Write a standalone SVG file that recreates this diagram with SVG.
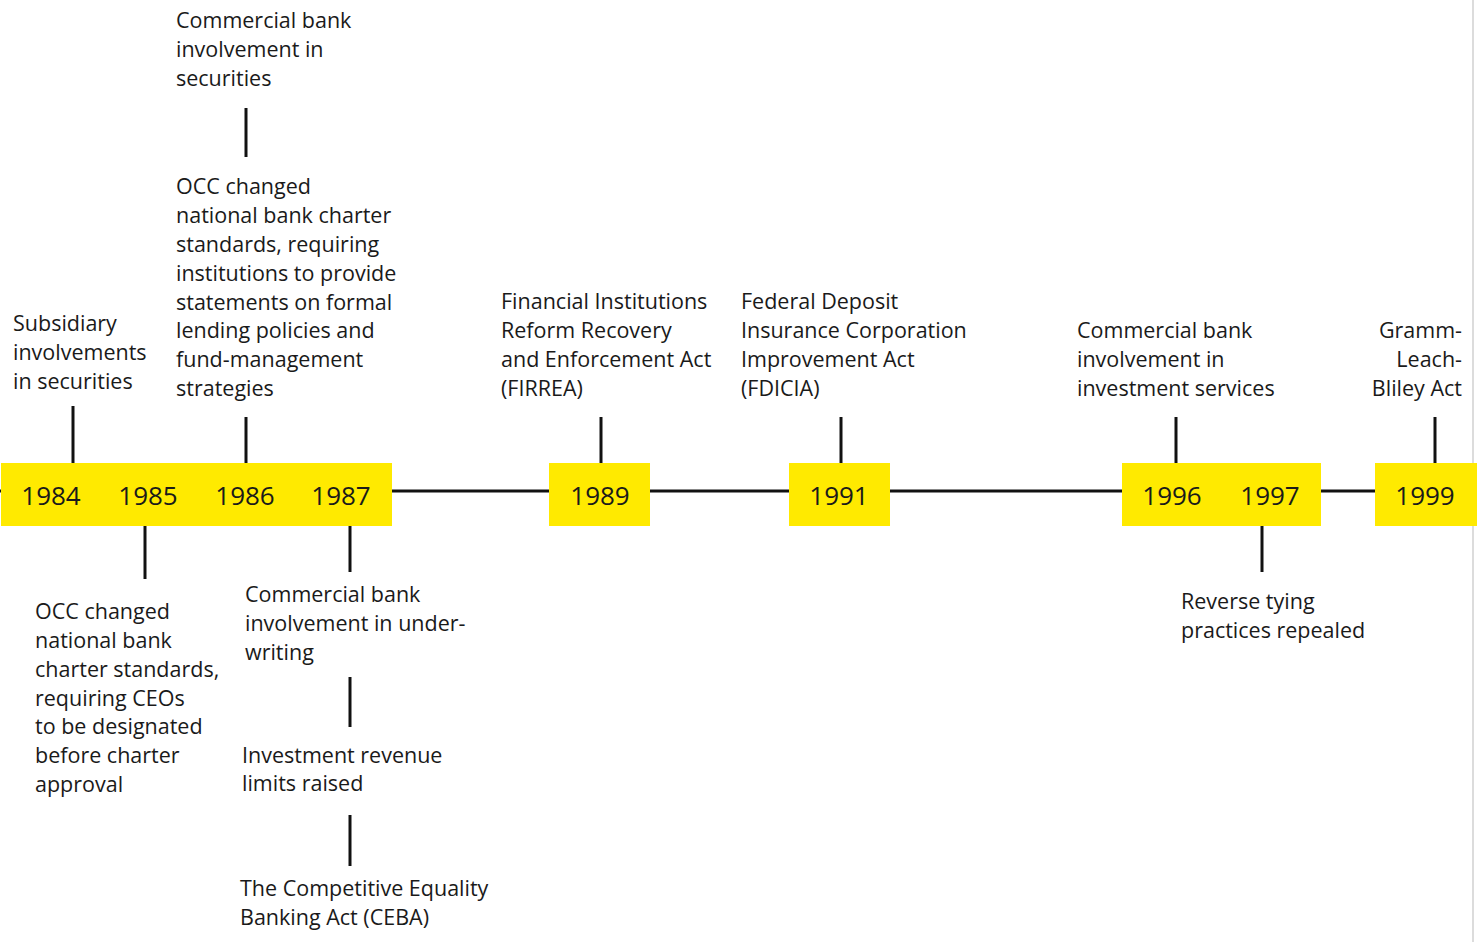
<svg xmlns="http://www.w3.org/2000/svg" width="1477" height="942" viewBox="0 0 1477 942">
<style>
.t{font-family:"Open Sans","Noto Sans","Liberation Sans",sans-serif;font-size:21.5px;fill:#1a1a1a}
.y{font-family:"Open Sans","Noto Sans","Liberation Sans",sans-serif;font-size:26px;fill:#1a1a1a;text-anchor:middle}
.c{stroke:#111;stroke-width:3;fill:none}
.b{fill:#FFEA00}
</style>
<rect width="1477" height="942" fill="#fff"/>
<line x1="1473" y1="0" x2="1473" y2="942" stroke="#dcdcdc" stroke-width="2"/>
<g id="connectors">
<line class="c" x1="0" y1="491" x2="1477" y2="491"/>
<line class="c" x1="73" y1="406" x2="73" y2="463"/>
<line class="c" x1="246" y1="417" x2="246" y2="463"/>
<line class="c" x1="246" y1="108" x2="246" y2="157"/>
<line class="c" x1="601" y1="417" x2="601" y2="463"/>
<line class="c" x1="841" y1="417" x2="841" y2="463"/>
<line class="c" x1="1176" y1="417" x2="1176" y2="463"/>
<line class="c" x1="1435" y1="417" x2="1435" y2="463"/>
<line class="c" x1="145" y1="526" x2="145" y2="579"/>
<line class="c" x1="350" y1="526" x2="350" y2="572"/>
<line class="c" x1="350" y1="677" x2="350" y2="727"/>
<line class="c" x1="350" y1="815" x2="350" y2="866"/>
<line class="c" x1="1262" y1="526" x2="1262" y2="572"/>
</g>
<g id="years1984-1987">
<rect class="b" x="1" y="463" width="391" height="63"/>
<text class="y" x="51" y="505">1984</text>
<text class="y" x="148" y="505">1985</text>
<text class="y" x="245" y="505">1986</text>
<text class="y" x="341" y="505">1987</text>
</g>
<g id="year1989">
<rect class="b" x="549" y="463" width="101" height="63"/>
<text class="y" x="600" y="505">1989</text>
</g>
<g id="year1991">
<rect class="b" x="789" y="463" width="101" height="63"/>
<text class="y" x="839" y="505">1991</text>
</g>
<g id="years1996-1997">
<rect class="b" x="1122" y="463" width="199" height="63"/>
<text class="y" x="1172" y="505">1996</text>
<text class="y" x="1270" y="505">1997</text>
</g>
<g id="year1999">
<rect class="b" x="1375" y="463" width="102" height="63"/>
<text class="y" x="1425" y="505">1999</text>
</g>
<g id="n-subsidiary">
<text class="t" x="13" y="331">Subsidiary</text>
<text class="t" x="13" y="360">involvements</text>
<text class="t" x="13" y="389">in securities</text>
</g>
<g id="n-cb-securities">
<text class="t" x="176" y="28">Commercial bank</text>
<text class="t" x="176" y="57">involvement in</text>
<text class="t" x="176" y="86">securities</text>
</g>
<g id="n-occ-1986">
<text class="t" x="176" y="194">OCC changed</text>
<text class="t" x="176" y="223">national bank charter</text>
<text class="t" x="176" y="252">standards, requiring</text>
<text class="t" x="176" y="281">institutions to provide</text>
<text class="t" x="176" y="310">statements on formal</text>
<text class="t" x="176" y="338">lending policies and</text>
<text class="t" x="176" y="367">fund-management</text>
<text class="t" x="176" y="396">strategies</text>
</g>
<g id="n-firrea">
<text class="t" x="501" y="309">Financial Institutions</text>
<text class="t" x="501" y="338">Reform Recovery</text>
<text class="t" x="501" y="367">and Enforcement Act</text>
<text class="t" x="501" y="396">(FIRREA)</text>
</g>
<g id="n-fdicia">
<text class="t" x="741" y="309">Federal Deposit</text>
<text class="t" x="741" y="338">Insurance Corporation</text>
<text class="t" x="741" y="367">Improvement Act</text>
<text class="t" x="741" y="396">(FDICIA)</text>
</g>
<g id="n-cb-investment">
<text class="t" x="1077" y="338">Commercial bank</text>
<text class="t" x="1077" y="367">involvement in</text>
<text class="t" x="1077" y="396">investment services</text>
</g>
<g id="n-glba">
<text class="t" x="1462" y="338" text-anchor="end">Gramm-</text>
<text class="t" x="1462" y="367" text-anchor="end">Leach-</text>
<text class="t" x="1462" y="396" text-anchor="end">Bliley Act</text>
</g>
<g id="n-occ-1985">
<text class="t" x="35" y="619">OCC changed</text>
<text class="t" x="35" y="648">national bank</text>
<text class="t" x="35" y="677">charter standards,</text>
<text class="t" x="35" y="706">requiring CEOs</text>
<text class="t" x="35" y="734">to be designated</text>
<text class="t" x="35" y="763">before charter</text>
<text class="t" x="35" y="792">approval</text>
</g>
<g id="n-cb-underwriting">
<text class="t" x="245" y="602">Commercial bank</text>
<text class="t" x="245" y="631">involvement in under-</text>
<text class="t" x="245" y="660">writing</text>
</g>
<g id="n-revenue">
<text class="t" x="242" y="763">Investment revenue</text>
<text class="t" x="242" y="791">limits raised</text>
</g>
<g id="n-ceba">
<text class="t" x="240" y="896">The Competitive Equality</text>
<text class="t" x="240" y="925">Banking Act (CEBA)</text>
</g>
<g id="n-reverse-tying">
<text class="t" x="1181" y="609">Reverse tying</text>
<text class="t" x="1181" y="638">practices repealed</text>
</g>
</svg>
